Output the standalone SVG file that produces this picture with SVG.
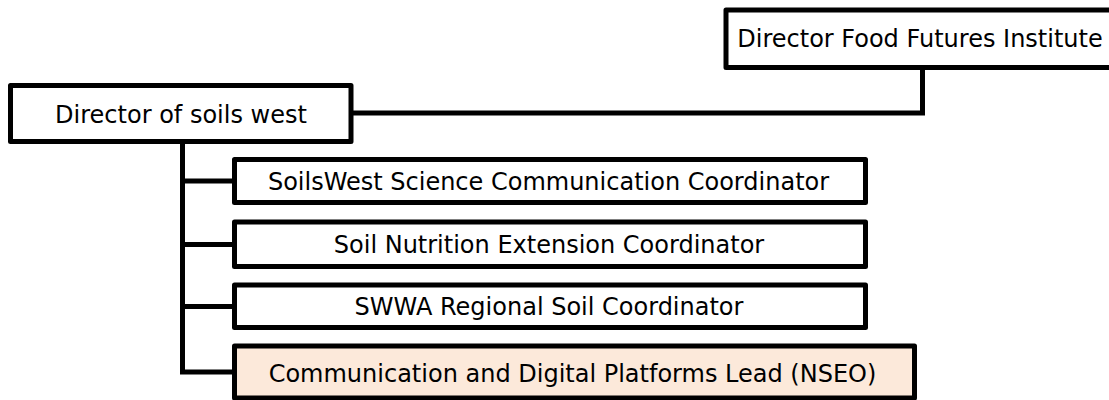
<svg xmlns="http://www.w3.org/2000/svg" width="1109" height="400" viewBox="0 0 1109 400">
  <style>
    .box { fill: #ffffff; stroke: #000000; stroke-width: 5; stroke-linejoin: round; }
    .hl { fill: #FCE9DA; }
    .lbl { font-family: "DejaVu Sans", Verdana, sans-serif; font-size: 24px; fill: #000000; text-anchor: middle; }
    .conn { fill: none; stroke: #000000; stroke-width: 5; stroke-linejoin: miter; }
  </style>
  <rect width="1109" height="400" fill="#ffffff"/>
  <g id="connectors">
    <path class="conn" d="M922.5,67.5 V113 H351"/>
    <path class="conn" d="M182.5,141.5 V372 H234.5"/>
    <path class="conn" d="M182.5,181 H234.5"/>
    <path class="conn" d="M182.5,244.5 H234.5"/>
    <path class="conn" d="M182.5,306.5 H234.5"/>
  </g>
  <g id="node-ffi">
    <rect class="box" x="726" y="10" width="390" height="57.5"/>
    <text class="lbl" x="920" y="47">Director Food Futures Institute</text>
  </g>
  <g id="node-dsw">
    <rect class="box" x="10.5" y="85.5" width="340.5" height="56"/>
    <text class="lbl" x="181" y="122.5">Director of soils west</text>
  </g>
  <g id="node-sci-comm">
    <rect class="box" x="234.5" y="159.5" width="631" height="43"/>
    <text class="lbl" x="548.5" y="190">SoilsWest Science Communication Coordinator</text>
  </g>
  <g id="node-nutrition">
    <rect class="box" x="234.5" y="222" width="631" height="44.5"/>
    <text class="lbl" x="549" y="253">Soil Nutrition Extension Coordinator</text>
  </g>
  <g id="node-swwa">
    <rect class="box" x="234.5" y="285" width="631" height="42.5"/>
    <text class="lbl" x="549" y="315">SWWA Regional Soil Coordinator</text>
  </g>
  <g id="node-digital">
    <rect class="box hl" x="234.5" y="346" width="680" height="52"/>
    <text class="lbl" x="572.5" y="381.5">Communication and Digital Platforms Lead (NSEO)</text>
  </g>
</svg>
